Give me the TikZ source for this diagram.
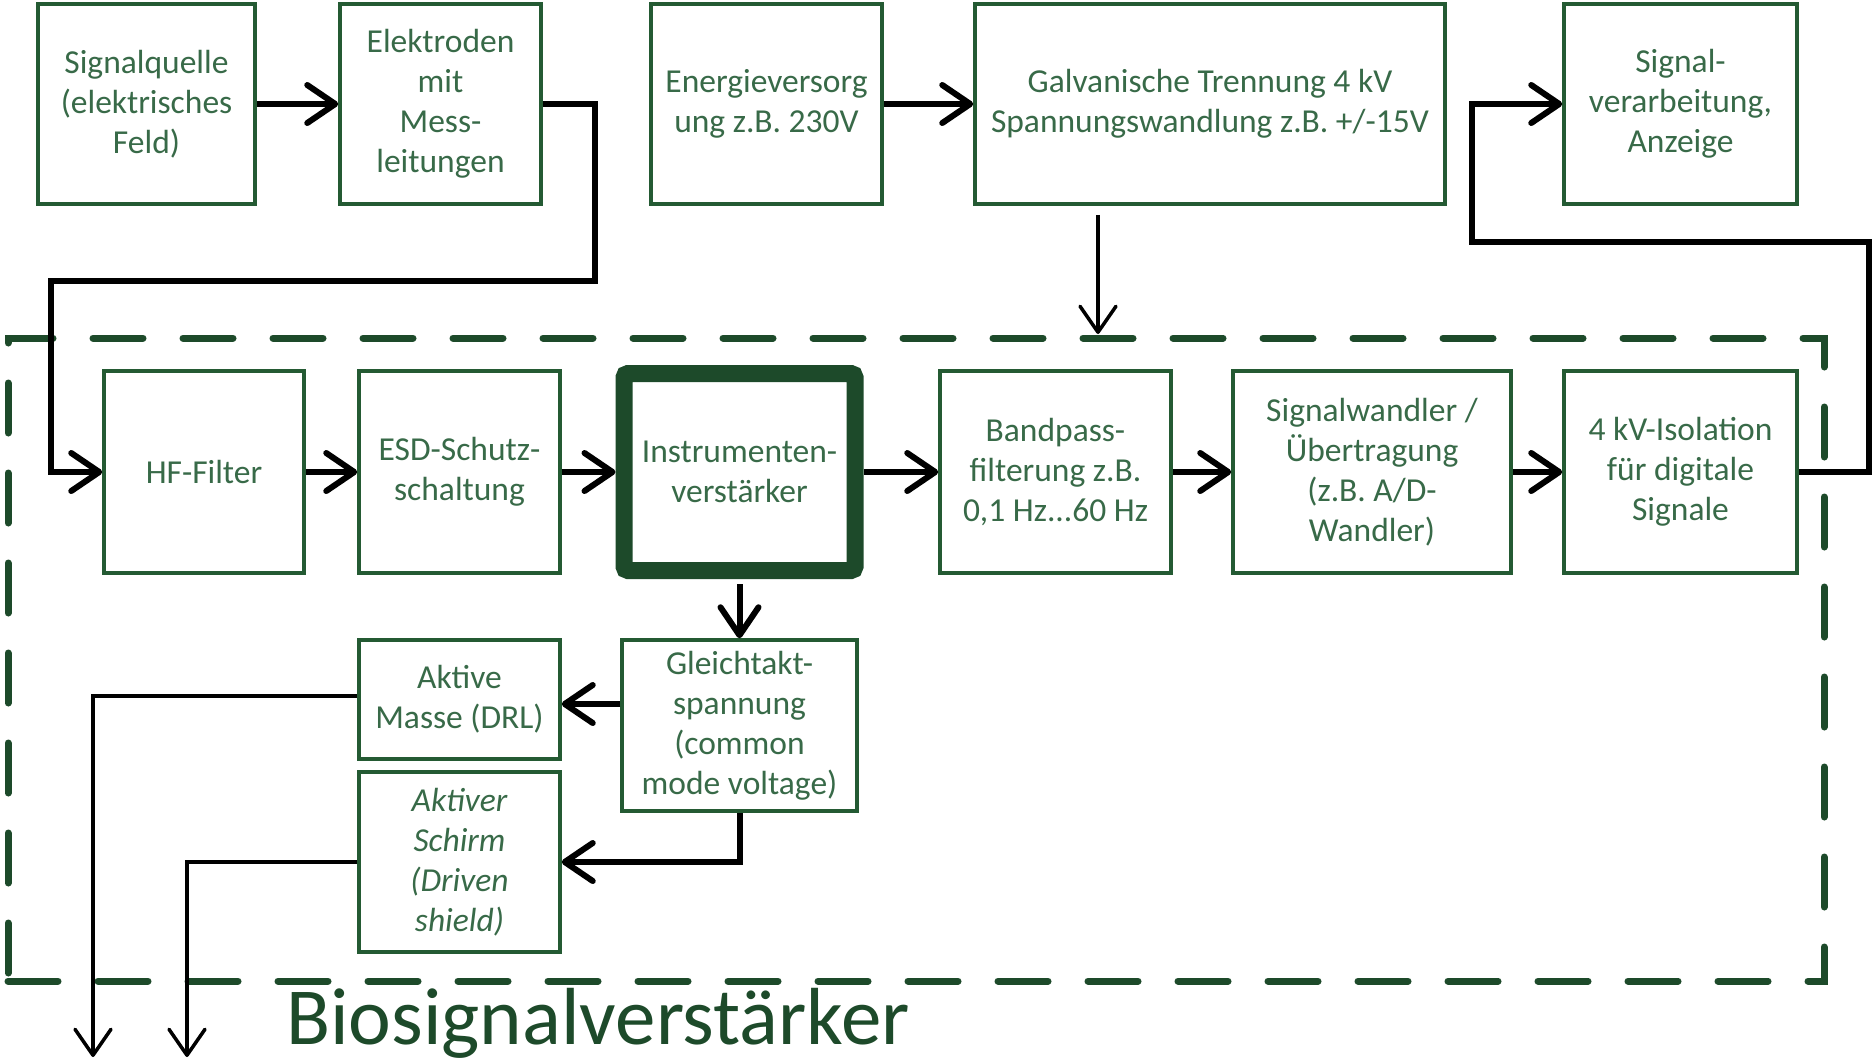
\documentclass[tikz,border=0pt]{standalone}
\usepackage{fontspec}
\setmainfont{Carlito}
\usetikzlibrary{arrows.meta,calc}
\definecolor{boxgreen}{HTML}{245A33}
\definecolor{txtgreen}{HTML}{386A48}
\definecolor{dashgreen}{HTML}{1D4A2A}
\begin{document}
\begin{tikzpicture}[x=1pt,y=-1pt,
  blk/.style={draw=boxgreen, line width=3.5pt, fill=white, text=txtgreen, align=center,
    inner sep=0pt, font=\fontsize{33.5}{40}\selectfont},
  arr/.style={draw=black, line width=6pt, -{Straight Barb[length=28pt,width=38pt,round]}},
  tarr/.style={draw=black, line width=3.5pt, -{Straight Barb[length=26pt,width=36pt,round]}}]
\useasboundingbox[fill=white] (0,0) rectangle (1872,1061);

% dashed frame
\node[draw=dashgreen, line width=7pt, dash pattern=on 50pt off 40pt, line cap=round,
  minimum width=1816pt, minimum height=643pt, inner sep=0pt, outer sep=0pt] (bsv) at (916,659.5) {};

% top row
\node[blk, minimum width=217pt, minimum height=200pt] (sq) at (146.5,104) {Signalquelle\\(elektrisches\\Feld)};
\node[blk, minimum width=201pt, minimum height=200pt] (el) at (440.5,104) {Elektroden\\mit\\Mess-\\leitungen};
\node[blk, minimum width=231pt, minimum height=200pt] (en) at (766.5,104) {Energieversorg\\ung z.B. 230V};
\node[blk, minimum width=470pt, minimum height=200pt] (gt) at (1210,104) {Galvanische Trennung 4 kV\\Spannungswandlung z.B. +/-15V};
\node[blk, minimum width=233pt, minimum height=200pt] (sv) at (1680.5,104) {Signal-\\verarbeitung,\\Anzeige};

% main row
\node[blk, minimum width=200pt, minimum height=202pt] (hf) at (204,472) {HF-Filter};
\node[blk, minimum width=201pt, minimum height=202pt] (esd) at (459.5,472) {ESD-Schutz-\\schaltung};
\node[blk, draw=dashgreen, line width=17pt, rounded corners=4pt, minimum width=231pt, minimum height=197pt] (ia) at (739.5,472) {Instrumenten-\\verstärker};
\node[blk, minimum width=231pt, minimum height=202pt] (bp) at (1055.5,472) {Bandpass-\\filterung z.B.\\0,1 Hz...60 Hz};
\node[blk, minimum width=278pt, minimum height=202pt] (sw) at (1372,472) {Signalwandler /\\Übertragung\\(z.B. A/D-\\Wandler)};
\node[blk, minimum width=233pt, minimum height=202pt] (iso) at (1680.5,472) {4 kV-Isolation\\für digitale\\Signale};

% lower blocks
\node[blk, minimum width=235pt, minimum height=171pt] (gl) at (739.5,725.5) {Gleichtakt-\\spannung\\(common\\mode voltage)};
\node[blk, minimum width=201pt, minimum height=119pt] (am) at (459.5,699.5) {Aktive\\Masse (DRL)};
\node[blk, minimum width=201pt, minimum height=180pt, font=\fontsize{33.5}{40}\selectfont\itshape] (as) at (459.5,862) {Aktiver\\Schirm\\(Driven\\shield)};

\node[text=dashgreen, font=\fontsize{81}{90}\selectfont, anchor=base, inner sep=0pt] (lbl) at (598,1044) {Biosignalverstärker};

% helper coordinates
\coordinate (r1) at (595,281);
\coordinate (r2) at (51,281);
\coordinate (q1) at (1869,242);
\coordinate (q2) at (1472,242);
\coordinate (gx) at (1098,0);
\coordinate (y704) at (0,704);
\coordinate (y696) at (0,696);
\coordinate (d1) at (93,1057);
\coordinate (d2) at (187,1057);

% connectors
\draw[arr] (sq) -- (el);
\draw[arr] (el.east) -| (r1) -- (r2) |- (hf.west);
\draw[arr] (en) -- (gt);
\draw[tarr, shorten <=9pt, shorten >=4pt] (gt.south -| gx) -- (bsv.north -| gx);
\draw[arr] (iso.east) -| (q1) -- (q2) |- (sv.west);
\draw[arr] (hf) -- (esd);
\draw[arr] (esd) -- (ia);
\draw[arr] (ia) -- (bp);
\draw[arr] (bp) -- (sw);
\draw[arr] (sw) -- (iso);
\draw[arr, shorten <=5pt] (ia.south) -- (gl.north);
\draw[arr] (gl.west |- y704) -- (am.east |- y704);
\draw[arr] (gl.south) |- (as.east);
\draw[tarr] (am.west |- y696) -| (d1);
\draw[tarr] (as.west) -| (d2);
\end{tikzpicture}
\end{document}
